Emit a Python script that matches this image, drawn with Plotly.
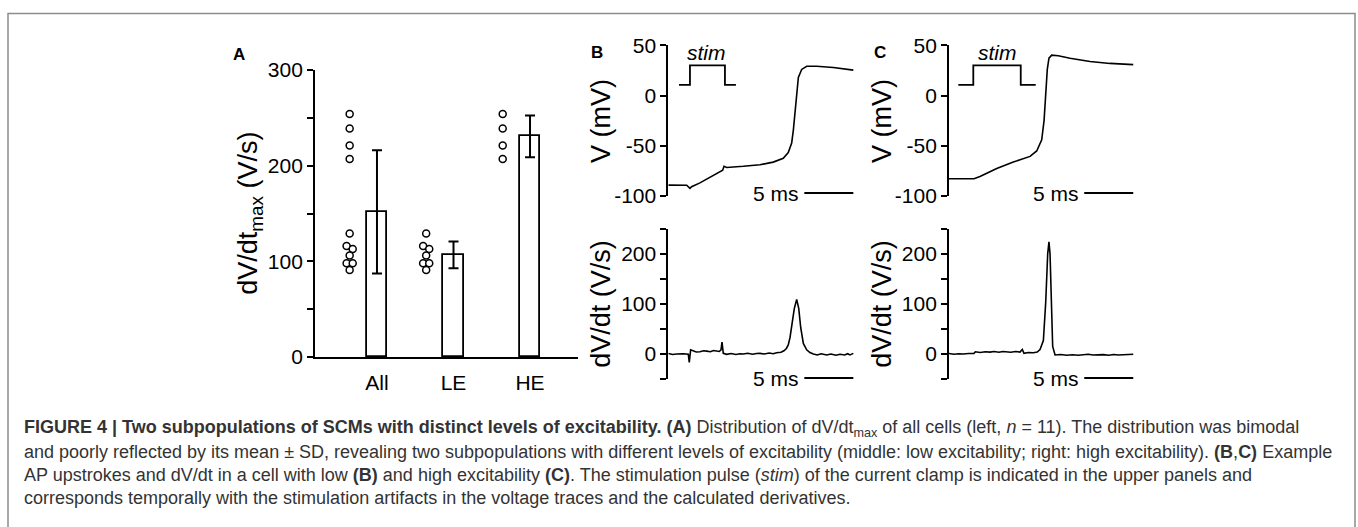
import plotly.graph_objects as go

W, H = 1358, 527
FONT = "Arial, Liberation Sans, Helvetica, sans-serif"

# ---------------- Data ----------------
groups = ["All", "LE", "HE"]
le_values = [129, 116, 113, 106, 98, 98, 91]
he_values = [254, 239, 221, 207]
all_values = he_values + le_values
bar_means = [151.7, 106.7, 230.7]
bar_sd = [64.5, 13.9, 21.8]

v_ticks = [-100, -50, 0, 50]
v_ticklabels = ["-100", "-50", "0", "50"]

# Panel B (low excitability) : time (ms), membrane potential (mV)
b_t = [0, 1.88, 2.21, 2.38, 3.23, 4.25, 5.27, 5.55, 5.68, 5.96, 7.65, 9.36, 10.71,
       11.73, 12.24, 12.59, 12.76, 12.93, 13.1, 13.27, 13.61, 14.12, 15.14, 16.84, 18.88]
b_v = [-89.3, -89.4, -92.4, -90.8, -87.0, -81.3, -75.9, -74.3, -70.5, -71.7, -70.5,
       -68.9, -66.3, -62.5, -56.8, -47.2, -34.4, -15.3, 3.8, 18.2, 26.1, 29.3, 29.3, 28.0, 25.4]
b_dt = [0, 0.45, 0.85, 1.2, 1.53, 2.04, 2.14, 2.28, 2.48, 2.85, 3.23, 3.6, 3.91, 4.3, 4.6,
        4.94, 5.2, 5.38, 5.48, 5.61, 5.96, 6.4, 6.9, 7.3, 7.65, 8.1, 8.6, 9.0, 9.36, 9.8,
        10.3, 10.7, 11.06, 11.5, 11.8, 12.05, 12.24, 12.42, 12.59, 12.86, 13.1, 13.31,
        13.51, 13.78, 14.12, 14.45, 14.8, 15.2, 15.6, 16.16, 16.6, 17.1, 17.52, 18.0,
        18.3, 18.54, 18.88]
b_dvdt = [1, -1, 0, 1, 0.5, -0.5, -17, 8.4, 7, 4, 4.5, 6.5, 5.8, 4.5, 7, 6.4, 5, 8.4, 23.7,
          1.3, -0.6, 1, -1, 0.5, 0, 1.5, -0.5, 1, 1.3, 0, 2, 0.5, 2.6, 3.5, 6.4, 11, 18,
          33, 53, 91, 109, 91, 53, 21, 8.4, 3, 0, -2, 0.5, -1.9, 0, -2.5, -0.6, -2, 0.5, -1.9, 1.3]

# Panel C (high excitability)
c_t = [0, 2.55, 3.16, 4.87, 6.56, 7.42, 8.27, 8.95, 9.46, 9.70, 9.87, 10.03, 10.2,
       10.48, 11.15, 12.35, 14.39, 16.43, 18.8]
c_v = [-82.9, -82.9, -80.7, -72.7, -66.3, -63.1, -60.6, -55.2, -44.0, -24.9, 0.6, 26.1,
       37.3, 40.4, 39.8, 37.3, 34.0, 32.1, 30.9]
c_dt = [0, 0.5, 1.0, 1.46, 2.0, 2.55, 2.69, 3.2, 3.7, 4.18, 4.6, 5.1, 5.5, 5.88, 6.3, 6.8,
        7.24, 7.48, 7.65, 8.1, 8.6, 9.0, 9.29, 9.63, 9.87, 10.07, 10.2, 10.31, 10.44,
        10.58, 10.82, 11.4, 12.0, 12.6, 13.2, 13.7, 14.2, 14.7, 15.2, 15.75, 16.3, 16.8,
        17.3, 17.79, 18.3, 18.8]
c_dvdt = [1, -0.5, 0.5, 0, 1, 1.3, 4.5, 3, 4.5, 3.8, 5, 3.5, 5, 4.5, 3.5, 5, 3.8, 9, 1.3,
          3, 2.6, 4, 9, 27, 104, 200, 224, 200, 85, 15, -1.9, -1, -2.6, -1.5, -2.5, -1.9,
          -0.5, -2, -1, -1.3, -2.5, -1, -2, -1.9, -1, -0.6]

# Stimulation pulse markers (time ms, level mV)
b_stim_t = [1.09, 2.21, 2.21, 5.78, 5.78, 6.9]
c_stim_t = [0.95, 2.48, 2.48, 7.32, 7.32, 8.85]
stim_v = [10.8, 10.8, 30.2, 30.2, 10.8, 10.8]
scale_ms = 5

# ---------------- Helpers ----------------
def px(x):
    return x / W

def py(y):
    return 1 - y / H

def swarm_offsets(vals, thr=5, step=0.04):
    order = sorted(range(len(vals)), key=lambda i: -vals[i])
    offs = [0.0] * len(vals)
    groups_ = []
    cur = [order[0]]
    for i in order[1:]:
        if abs(vals[cur[-1]] - vals[i]) < thr:
            cur.append(i)
        else:
            groups_.append(cur)
            cur = [i]
    groups_.append(cur)
    for g in groups_:
        n = len(g)
        for k, i in enumerate(g):
            offs[i] = (k - (n - 1) / 2) * 2 * step * (1 if n > 1 else 0)
    return offs

fig = go.Figure()
LW = 1.8

# ---------------- Panel A ----------------
fig.add_trace(go.Bar(
    x=[1, 2, 3], y=bar_means, width=0.268,
    marker=dict(color="white", line=dict(color="black", width=LW)),
    error_y=dict(type="data", array=bar_sd, visible=True, color="black", thickness=2, width=5),
    xaxis="x", yaxis="y", showlegend=False))

for gi, vals in enumerate([all_values, le_values, he_values]):
    offs = swarm_offsets(vals)
    xs = [gi + 1 - 0.357 + o for o in offs]
    fig.add_trace(go.Scatter(
        x=xs, y=vals, mode="markers",
        marker=dict(symbol="circle", size=7, color="white", line=dict(color="black", width=1.5)),
        xaxis="x", yaxis="y", showlegend=False, cliponaxis=False))

# ---------------- Panels B/C traces ----------------
line = dict(color="black", width=1.6)
fig.add_trace(go.Scatter(x=b_t, y=b_v, mode="lines", line=line, xaxis="x2", yaxis="y2", showlegend=False))
fig.add_trace(go.Scatter(x=b_dt, y=b_dvdt, mode="lines", line=line, xaxis="x3", yaxis="y3", showlegend=False))
fig.add_trace(go.Scatter(x=c_t, y=c_v, mode="lines", line=line, xaxis="x4", yaxis="y4", showlegend=False))
fig.add_trace(go.Scatter(x=c_dt, y=c_dvdt, mode="lines", line=line, xaxis="x5", yaxis="y5", showlegend=False))

# stim pulses
fig.add_trace(go.Scatter(x=b_stim_t, y=stim_v, mode="lines", line=dict(color="black", width=LW),
                         xaxis="x2", yaxis="y2", showlegend=False))
fig.add_trace(go.Scatter(x=c_stim_t, y=stim_v, mode="lines", line=dict(color="black", width=LW),
                         xaxis="x4", yaxis="y4", showlegend=False))

# scale bars
sb = [("x2", "y2", 13.88, -97.2), ("x3", "y3", 13.88, -48),
      ("x4", "y4", 13.8, -97.2), ("x5", "y5", 13.8, -48)]
annotations = []
for xa, ya, t0, yv in sb:
    fig.add_trace(go.Scatter(x=[t0, t0 + scale_ms], y=[yv, yv], mode="lines",
                             line=dict(color="black", width=2), xaxis=xa, yaxis=ya,
                             showlegend=False, cliponaxis=False))
    annotations.append(dict(x=t0, y=yv, xref=xa, yref=ya, text="5 ms", showarrow=False,
                            xanchor="right", yanchor="middle", xshift=-3,
                            font=dict(size=21, color="black", family=FONT)))

for xa, ya, tc in [("x2", "y2", 3.9), ("x4", "y4", 4.9)]:
    annotations.append(dict(x=tc, y=43.4, xref=xa, yref=ya, text="<i>stim</i>", showarrow=False,
                            xanchor="center", yanchor="middle",
                            font=dict(size=21, color="black", family=FONT)))

# ---------------- Axes ----------------
common_y = dict(showline=True, linecolor="black", linewidth=LW, ticks="outside", ticklen=6,
                tickwidth=LW, tickcolor="black", showgrid=False, zeroline=False,
                tickfont=dict(size=21, color="black", family=FONT))
minor_common = dict(ticks="outside", ticklen=6, tickwidth=LW, tickcolor="black", showgrid=False)

xB = [px(668.3), px(859.4)]
xC = [px(949), px(1140.1)]
yTop = [py(192.3), py(35)]
yBot = [py(383.8), py(226.7)]
hidden_x = dict(visible=False, range=[0, 19.5], fixedrange=True)

fig.update_layout(
    width=W, height=H, margin=dict(l=0, r=0, t=0, b=0),
    paper_bgcolor="white", plot_bgcolor="white",
    font=dict(family=FONT, color="black"),
    xaxis=dict(domain=[px(315), px(578)], range=[0.19, 3.627], showline=True, linecolor="black",
               linewidth=LW, ticks="", tickvals=[1, 2, 3], ticktext=groups, showgrid=False,
               zeroline=False, ticklabelstandoff=6,
               tickfont=dict(size=21, color="black", family=FONT), anchor="y"),
    yaxis=dict(domain=[py(360.7), py(60.7)], range=[0, 300], tickvals=[0, 100, 200, 300],
               minor=dict(tickvals=[50, 150, 250], **minor_common), anchor="x", **common_y),
    xaxis2=dict(domain=xB, anchor="y2", **hidden_x),
    yaxis2=dict(domain=yTop, range=[-100, 50], tickvals=v_ticks, ticktext=v_ticklabels,
                anchor="x2", **common_y),
    xaxis3=dict(domain=xB, anchor="y3", **hidden_x),
    yaxis3=dict(domain=yBot, range=[-50, 250], tickvals=[0, 100, 200],
                minor=dict(tickvals=[-50, 50, 150, 250], **minor_common), anchor="x3", **common_y),
    xaxis4=dict(domain=xC, anchor="y4", **hidden_x),
    yaxis4=dict(domain=yTop, range=[-100, 50], tickvals=v_ticks, ticktext=v_ticklabels,
                anchor="x4", **common_y),
    xaxis5=dict(domain=xC, anchor="y5", **hidden_x),
    yaxis5=dict(domain=yBot, range=[-50, 250], tickvals=[0, 100, 200],
                minor=dict(tickvals=[-50, 50, 150, 250], **minor_common), anchor="x5", **common_y),
    bargap=0,
)

# axis titles & panel letters
def ann_p(x, y, text, size, angle=0):
    return dict(x=px(x), y=py(y), xref="paper", yref="paper", text=text, showarrow=False,
                xanchor="center", yanchor="middle", textangle=angle,
                font=dict(size=size, color="black", family=FONT))

annotations += [
    ann_p(250, 211, "dV/dt<sub>max</sub> (V/s)", 27, -90),
    ann_p(601, 114, "V (mV)", 27, -90),
    ann_p(601, 305, "dV/dt (V/s)", 27, -90),
    ann_p(882, 114, "V (mV)", 27, -90),
    ann_p(882, 305, "dV/dt (V/s)", 27, -90),
    ann_p(239, 44, "<b>A</b>", 17),
    ann_p(596.5, 42.5, "<b>B</b>", 17),
    ann_p(880, 42, "<b>C</b>", 17),
]

caption = [
    "<b>FIGURE 4 | Two subpopulations of SCMs with distinct levels of excitability. (A)</b> Distribution of dV/dt<sub>max</sub> of all cells (left, <i>n</i> = 11). The distribution was bimodal",
    "and poorly reflected by its mean ± SD, revealing two subpopulations with different levels of excitability (middle: low excitability; right: high excitability). <b>(B</b>,<b>C)</b> Example",
    "AP upstrokes and dV/dt in a cell with low <b>(B)</b> and high excitability <b>(C)</b>. The stimulation pulse (<i>stim</i>) of the current clamp is indicated in the upper panels and",
    "corresponds temporally with the stimulation artifacts in the voltage traces and the calculated derivatives.",
]
for i, line_txt in enumerate(caption):
    annotations.append(dict(x=px(22), y=py(436 + i * 24), xref="paper", yref="paper",
                            text=line_txt, showarrow=False, xanchor="left", yanchor="middle",
                            align="left", font=dict(size=18, color="#333333", family=FONT)))

fig.update_layout(annotations=annotations)

# frame around figure and caption
fig.add_shape(type="rect", xref="paper", yref="paper", x0=px(8), x1=px(1355),
              y0=-0.05, y1=py(1.5), line=dict(color="#8c8c8c", width=1.5), layer="below")

fig.write_html("out.html")
